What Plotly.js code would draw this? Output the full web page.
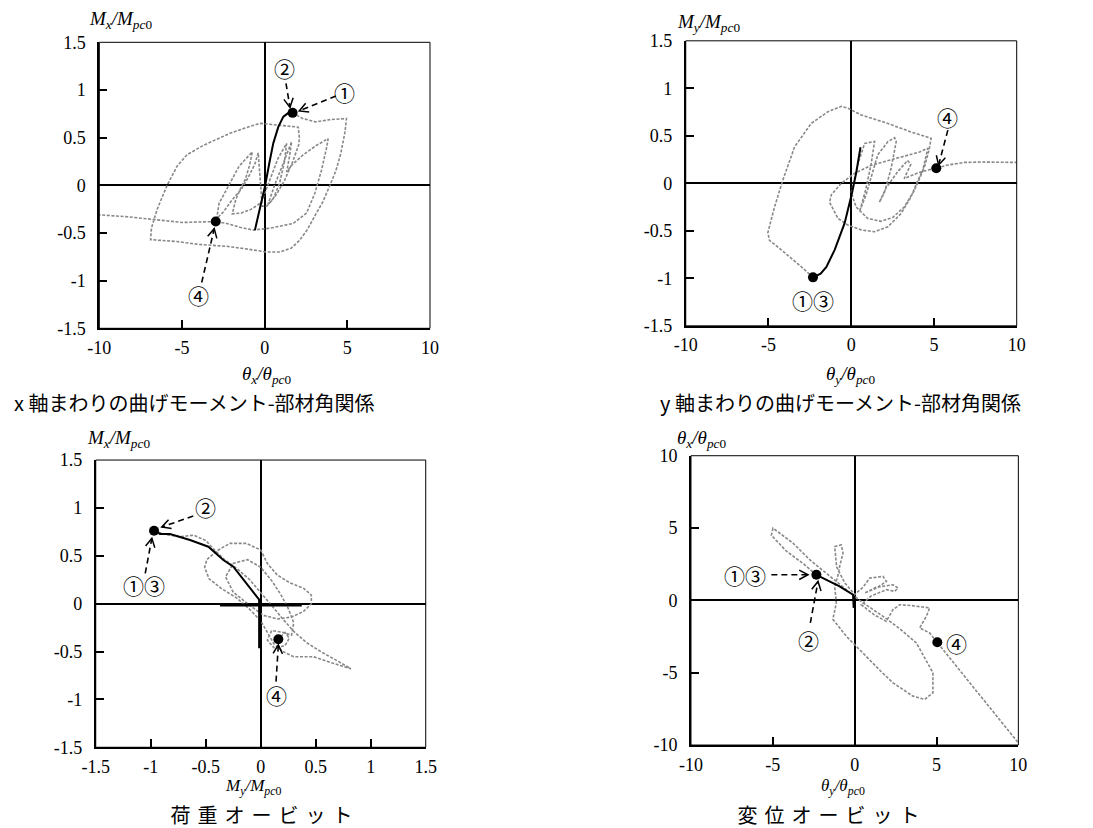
<!DOCTYPE html>
<html>
<head>
<meta charset="utf-8">
<script src="https://cdn.plot.ly/plotly-3.0.1.min.js"></script>
<style>
  html, body { margin: 0; padding: 0; background: #fff; }
  #chart { width: 1093px; height: 828px; }
  /* bottom captions (annotations 2 and 3) are spread out like the original */
  g.annotation[data-index="2"] text, g.annotation[data-index="3"] text { letter-spacing: 7px; }
</style>
</head>
<body>
<div id="chart"></div>
<script>
// ---- x-axis moment vs rotation (top left) ----
const tlHystTheta = [1.69, 2.3, 3.1, 4.0, 4.95, 4.85, 4.6, 4.3, 3.95, 3.5, 3.1, 2.6, 2.1, 1.6, 0.9, 0.1, -1.0, -2.3, -4.0, -5.3, -6.9,
  -6.85, -6.5, -5.9, -5.3, -4.7, -3.7, -2.1, -1.2, -0.28, 0.9, 2.03, 2.1, 2.05, 1.7, 1.2, 0.7, 0.12, -0.15, -0.25, -0.33, -0.39,
  -0.6, -1.0, -1.45, -1.96, -2.5, -2.9, -2.76, -2.16, -1.55, -0.75, -0.9, -1.15, -1.45, -1.75, -1.96, -1.4, -0.8, -0.2, 0.3, 0.8,
  1.33, 1.2, 0.9, 0.5, 0.2, 0.6, 1.1, 1.63, 1.5, 1.33, 1.63, 2.33, 3.14, 3.84, 3.74, 3.44, 3.04, 2.54, 1.73, 0.32, -0.69, -1.5,
  -2.3, -2.96, -4.98, -6.8, -8.3, -10];
const tlHystM = [0.76, 0.70, 0.665, 0.69, 0.70, 0.55, 0.33, 0.15, 0.0, -0.18, -0.30, -0.46, -0.58, -0.66, -0.70, -0.70, -0.67, -0.64, -0.62, -0.59, -0.57,
  -0.45, -0.25, 0.0, 0.2, 0.32, 0.42, 0.545, 0.60, 0.65, 0.63, 0.61, 0.50, 0.42, 0.25, 0.05, -0.10, -0.22, -0.22, 0.0, 0.2, 0.34,
  0.22, 0.08, -0.05, -0.15, -0.28, -0.35, -0.19, 0.0, 0.2, 0.35, 0.22, 0.07, -0.03, -0.15, -0.30, -0.29, -0.25, -0.18, 0.05, 0.28,
  0.44, 0.25, 0.02, -0.15, -0.2, 0.0, 0.22, 0.457, 0.30, 0.14, 0.21, 0.32, 0.42, 0.49, 0.39, 0.16, -0.08, -0.29, -0.40, -0.45, -0.47, -0.44,
  -0.40, -0.38, -0.39, -0.357, -0.33, -0.31];
const tlInitTheta = [-0.59, -0.3, 0.02, 0.3, 0.52, 0.82, 1.13, 1.4, 1.69];
const tlInitM = [-0.47, -0.24, -0.01, 0.25, 0.44, 0.61, 0.72, 0.755, 0.76];
const tlPointTheta = [1.69, -2.96];
const tlPointM = [0.76, -0.38];

// ---- y-axis moment vs rotation (top right) ----
const trHystTheta = [-2.31, -3.02, -4.23, -4.94, -5.04, -4.63, -4.13, -3.42, -2.42, -1.41, -0.60, -0.2, 0.6, 2.22, 3.62, 4.83,
  4.7, 4.43, 4.03, 3.62, 3.02, 2.22, 1.41, 0.6, -0.2, -0.8, -1.31, -1.2, -0.6, 0.2, 1.21, 2.62, 3.42, 4.13, 4.63,
  4.3, 3.8, 3.2, 2.5, 1.8, 1.0, 0.3, 0.0, 0.4, 0.81, 1.41, 1.2, 0.9, 0.5, 0.9, 1.6, 2.22, 2.62, 2.72, 2.4, 2.0, 1.7,
  2.1, 2.8, 3.4, 3.6, 3.2, 3.6, 4.2, 4.63, 5.14, 5.84, 6.85, 7.86, 9.0, 10];
const trHystM = [-0.99, -0.878, -0.70, -0.60, -0.52, -0.246, 0.035, 0.385, 0.63, 0.754, 0.81, 0.79, 0.72, 0.63, 0.54, 0.474,
  0.35, 0.175, 0.035, -0.14, -0.316, -0.457, -0.51, -0.49, -0.44, -0.37, -0.2, -0.12, 0.0, 0.105, 0.19, 0.26, 0.30, 0.33, 0.37,
  0.12, -0.08, -0.25, -0.36, -0.40, -0.37, -0.25, -0.1, 0.2, 0.42, 0.44, 0.2, -0.05, -0.3, -0.12, 0.3, 0.44, 0.48, 0.44, 0.15, -0.1, -0.2,
  -0.05, 0.12, 0.24, 0.2, 0.05, 0.08, 0.12, 0.14, 0.158, 0.193, 0.22, 0.224, 0.225, 0.22];
const trInitTheta = [0.56, 0.3, 0.05, -0.4, -1.0, -1.5, -1.85, -2.31];
const trInitM = [0.38, 0.11, -0.1, -0.42, -0.70, -0.88, -0.95, -0.99];
const trPointTheta = [-2.31, 5.14];
const trPointM = [-0.99, 0.158];

// ---- load orbit (bottom left) ----
const blOrbitMy = [-0.97, -0.86, -0.73, -0.61, -0.50, -0.42, -0.33, -0.22, -0.10, 0.0, 0.1, 0.2, 0.3, 0.42, 0.56, 0.70, 0.82,
  0.65, 0.48, 0.30, 0.2, 0.12, 0.06, 0.0, -0.1, -0.22, -0.36, -0.47, -0.51, -0.49, -0.40, -0.28, -0.13, 0.0, 0.06, 0.15,
  0.26, 0.39, 0.46, 0.46, 0.39, 0.28, 0.15, 0.02, -0.12, -0.25, -0.32, -0.25, -0.12, 0.0, 0.1, 0.18, 0.25, 0.30, 0.28,
  0.2, 0.1, 0.06, 0.12, 0.22, 0.26, 0.22, 0.16];
const blOrbitMx = [0.762, 0.72, 0.70, 0.715, 0.66, 0.56, 0.46, 0.37, 0.25, 0.12, -0.02, -0.16, -0.29, -0.41, -0.51, -0.60, -0.68,
  -0.62, -0.555, -0.555, -0.50, -0.42, -0.30, -0.18, -0.06, 0.06, 0.16, 0.26, 0.38, 0.46, 0.55, 0.63, 0.63, 0.56, 0.42, 0.30,
  0.22, 0.16, 0.09, 0.0, -0.08, -0.14, -0.16, -0.12, 0.0, 0.12, 0.28, 0.42, 0.46, 0.38, 0.24, 0.1, -0.05, -0.2, -0.33,
  -0.30, -0.28, -0.38, -0.46, -0.44, -0.36, -0.30, -0.37];
const blInitMy = [0.0, -0.127, -0.249, -0.34, -0.476, -0.643, -0.825, -0.915, -0.97];
const blInitMx = [0.02, 0.213, 0.386, 0.456, 0.595, 0.665, 0.728, 0.728, 0.762];
const blCrossMy = [-0.37, 0.373, null, -0.01, -0.01];
const blCrossMx = [-0.014, -0.014, null, 0.04, -0.466];
const blPointMy = [-0.97, 0.16];
const blPointMx = [0.762, -0.372];

// ---- displacement orbit (bottom right) ----
const brOrbitTy = [-2.34, -3.1, -4.17, -5.09, -4.99, -3.77, -2.75, -1.73, -0.71, 0.3, 1.73, 2.8, 3.77, 4.3, 4.78, 4.78, 4.28,
  3.56, 2.34, 1.6, 0.71, -0.51, -1.33, -1.12, -1.22, -1.0, -0.92, -0.71, -0.82, -1.22, -1.1, -0.6, 0.0, 0.5, 0.92, 1.73,
  1.94, 1.33, 0.6, 1.3, 2.34, 2.65, 2.44, 1.94, 1.0, 0.4, 1.2, 1.93, 2.34, 2.75, 3.4, 4.58, 4.38, 3.97, 4.58, 5.05, 7.5, 10];
const brOrbitTx = [1.77, 2.5, 3.4, 4.5, 4.99, 3.96, 2.81, 1.89, 0.97, 0.0, -1.1, -2.0, -2.94, -4.0, -5.0, -6.39, -6.85,
  -6.62, -5.7, -4.9, -3.86, -2.48, -1.3, -0.18, 0.97, 1.8, 2.34, 3.27, 3.84, 3.72, 2.3, 1.2, 0.4, 0.9, 1.54, 1.66,
  1.31, 0.855, 0.5, 0.9, 1.08, 0.855, 0.62, 0.74, 0.3, -0.3, -1.0, -1.45, -0.64, -0.30, -0.35, -0.52, -1.10, -1.90, -2.25, -2.9, -6.35, -9.85];
const brInitTy = [-0.06, -0.06, -0.1, -0.92, -1.73, -2.34];
const brInitTx = [-0.52, 0.28, 0.39, 0.97, 1.43, 1.77];
const brPointTy = [-2.34, 5.05];
const brPointTx = [1.77, -2.9];

// ---- ticks ----
const momentTicks = [-1.5, -1, -0.5, 0, 0.5, 1, 1.5];
const momentTickText = ['-1.5', '-1', '-0.5', '0', '0.5', '1', '1.5'];
const angleTicks = [-10, -5, 0, 5, 10];
const angleTickText = ['-10', '-5', '0', '5', '10'];

const W = 1093, H = 828;
const serif = '"Liberation Serif", "DejaVu Serif", serif';
const jp = '"Noto Sans CJK JP", sans-serif';

const panels = {
  tl: { xd: [0.0909, 0.3934], yd: [0.6035, 0.9489], xr: [-10, 10], yr: [-1.5, 1.5], xa: 'x', ya: 'y' },
  tr: { xd: [0.6274, 0.9302], yd: [0.6065, 0.9507], xr: [-10, 10], yr: [-1.5, 1.5], xa: 'x2', ya: 'y2' },
  bl: { xd: [0.0876, 0.3895], yd: [0.0975, 0.4444], xr: [-1.5, 1.5], yr: [-1.5, 1.5], xa: 'x3', ya: 'y3' },
  br: { xd: [0.6322, 0.9317], yd: [0.1002, 0.4496], xr: [-10, 10], yr: [-10, 10], xa: 'x4', ya: 'y4' }
};

function axis(p, isX, tickvals, ticktext) {
  return {
    domain: isX ? p.xd : p.yd,
    range: isX ? p.xr : p.yr,
    anchor: isX ? p.ya : p.xa,
    tickvals: tickvals, ticktext: ticktext,
    ticks: 'inside', ticklen: 8, tickwidth: 2, tickcolor: 'black',
    ticklabelstandoff: isX ? 2 : 8,
    tickfont: { family: serif, size: 18, color: 'black' },
    showline: true, linecolor: 'black', linewidth: 2, mirror: false,
    showgrid: false,
    zeroline: true, zerolinecolor: 'black', zerolinewidth: 2,
    fixedrange: true
  };
}

function hyst(x, y, p) {
  return { x: x, y: y, xaxis: p.xa, yaxis: p.ya, mode: 'lines', hoverinfo: 'skip',
    line: { color: '#888888', width: 1.6, dash: '3px,1.6px' } };
}
function init(x, y, p, w) {
  return { x: x, y: y, xaxis: p.xa, yaxis: p.ya, mode: 'lines', hoverinfo: 'skip',
    line: { color: 'black', width: w || 2 } };
}
function pts(x, y, p) {
  return { x: x, y: y, xaxis: p.xa, yaxis: p.ya, mode: 'markers', hoverinfo: 'skip',
    marker: { color: 'black', size: 10 } };
}

// dashed arrow with open head, drawn as shapes in data space
function arrow(p, tail, tip) {
  const sx = (p.xd[1] - p.xd[0]) * W / (p.xr[1] - p.xr[0]);
  const sy = (p.yd[1] - p.yd[0]) * H / (p.yr[1] - p.yr[0]);
  const dx = (tip[0] - tail[0]) * sx, dy = (tip[1] - tail[1]) * sy;
  const len = Math.hypot(dx, dy), ux = dx / len, uy = dy / len;
  const L = 10, a = 28 * Math.PI / 180;
  const wing = s => {
    const c = Math.cos(a), sn = Math.sin(a) * s;
    const vx = ux * c - uy * sn, vy = ux * sn + uy * c;
    return [tip[0] - L * vx / sx, tip[1] - L * vy / sy];
  };
  const w1 = wing(1), w2 = wing(-1);
  return [
    { type: 'line', xref: p.xa, yref: p.ya, x0: tail[0], y0: tail[1], x1: tip[0], y1: tip[1],
      line: { color: 'black', width: 1.6, dash: '6px,4px' } },
    { type: 'path', xref: p.xa, yref: p.ya, path: `M${w1[0]},${w1[1]} L${tip[0]},${tip[1]} L${w2[0]},${w2[1]}`,
      line: { color: 'black', width: 1.5 } }
  ];
}
function frame(p) {
  return { type: 'rect', xref: p.xa + ' domain', yref: p.ya + ' domain', x0: 0, x1: 1, y0: 0, y1: 1,
    line: { color: 'black', width: 1 } };
}

function paperText(text, x, y, size, family) {
  return { xref: 'paper', yref: 'paper', x: x, y: y, text: text, showarrow: false,
    xanchor: 'center', yanchor: 'middle', font: { family: family || serif, size: size || 19, color: 'black' } };
}
function label(p, text, x, y) {
  return { xref: p.xa, yref: p.ya, x: x, y: y, text: text, showarrow: false,
    xanchor: 'center', yanchor: 'middle', font: { family: jp, size: 21, color: 'black' } };
}

const mTitle = (s) => `<i>M</i><sub><i>${s}</i></sub><i>/M</i><sub><i>pc</i>0</sub>`;
const tTitle = (s) => `<i>θ</i><sub><i>${s}</i></sub><i>/θ</i><sub><i>pc</i>0</sub>`;

const annotations = [
  paperText('x 軸まわりの曲げモーメント-部材角関係', 194 / W, 1 - 403 / H, 20, jp),
  paperText('y 軸まわりの曲げモーメント-部材角関係', 840 / W, 1 - 403 / H, 20, jp),
  paperText('荷重オービット', 265 / W, 1 - 814 / H, 20, jp),
  paperText('変位オービット', 832 / W, 1 - 814 / H, 20, jp),
  paperText(mTitle('x'), 120 / W, 1 - 20 / H),
  paperText(mTitle('y'), 708 / W, 1 - 23 / H),
  paperText(mTitle('x'), 118 / W, 1 - 439 / H),
  paperText(tTitle('x'), 701 / W, 1 - 439 / H),
  paperText(tTitle('x'), 266 / W, 1 - 375 / H),
  paperText(tTitle('y'), 850 / W, 1 - 375 / H),
  paperText(mTitle('y'), 253 / W, 1 - 787 / H, 17),
  paperText(tTitle('y'), 843 / W, 1 - 787 / H, 17),
  label(panels.tl, '②', 1.17, 1.226),
  label(panels.tl, '①', 4.85, 0.98),
  label(panels.tl, '④', -4.01, -1.15),
  label(panels.tr, '④', 5.84, 0.70),
  label(panels.tr, '①③', -2.31, -1.23),
  label(panels.bl, '②', -0.506, 1.01),
  label(panels.bl, '①③', -1.06, 0.195),
  label(panels.bl, '④', 0.145, -0.953),
  label(panels.br, '①③', -6.72, 1.77),
  label(panels.br, '②', -2.85, -2.71),
  label(panels.br, '④', 6.21, -2.94)
];

const shapes = [].concat(
  frame(panels.tl), frame(panels.tr), frame(panels.bl), frame(panels.br),
  arrow(panels.tl, [1.29, 1.07], [1.53, 0.818]),
  arrow(panels.tl, [4.31, 0.936], [2.09, 0.78]),
  arrow(panels.tl, [-3.81, -1.02], [-3.05, -0.455]),
  arrow(panels.tr, [5.84, 0.56], [5.28, 0.193]),
  arrow(panels.bl, [-0.613, 0.915], [-0.90, 0.80]),
  arrow(panels.bl, [-1.05, 0.317], [-0.99, 0.683]),
  arrow(panels.bl, [0.139, -0.814], [0.16, -0.43]),
  arrow(panels.br, [-5.09, 1.77], [-2.85, 1.77]),
  arrow(panels.br, [-2.71, -1.56], [-2.24, 1.31])
);

const data = [
  hyst(tlHystTheta, tlHystM, panels.tl), init(tlInitTheta, tlInitM, panels.tl), pts(tlPointTheta, tlPointM, panels.tl),
  hyst(trHystTheta, trHystM, panels.tr), init(trInitTheta, trInitM, panels.tr), pts(trPointTheta, trPointM, panels.tr),
  hyst(blOrbitMy, blOrbitMx, panels.bl), init(blInitMy, blInitMx, panels.bl), init(blCrossMy, blCrossMx, panels.bl, 3),
  pts(blPointMy, blPointMx, panels.bl),
  hyst(brOrbitTy, brOrbitTx, panels.br), init(brInitTy, brInitTx, panels.br), pts(brPointTy, brPointTx, panels.br)
];

const layout = {
  width: W, height: H,
  margin: { l: 0, r: 0, t: 0, b: 0 },
  paper_bgcolor: 'white', plot_bgcolor: 'white',
  showlegend: false,
  xaxis: axis(panels.tl, true, angleTicks, angleTickText),
  yaxis: axis(panels.tl, false, momentTicks, momentTickText),
  xaxis2: axis(panels.tr, true, angleTicks, angleTickText),
  yaxis2: axis(panels.tr, false, momentTicks, momentTickText),
  xaxis3: axis(panels.bl, true, momentTicks, momentTickText),
  yaxis3: axis(panels.bl, false, momentTicks, momentTickText),
  xaxis4: axis(panels.br, true, angleTicks, angleTickText),
  yaxis4: axis(panels.br, false, angleTicks, angleTickText),
  annotations: annotations,
  shapes: shapes
};

Plotly.newPlot('chart', data, layout, { displayModeBar: false, staticPlot: true });
</script>
</body>
</html>
